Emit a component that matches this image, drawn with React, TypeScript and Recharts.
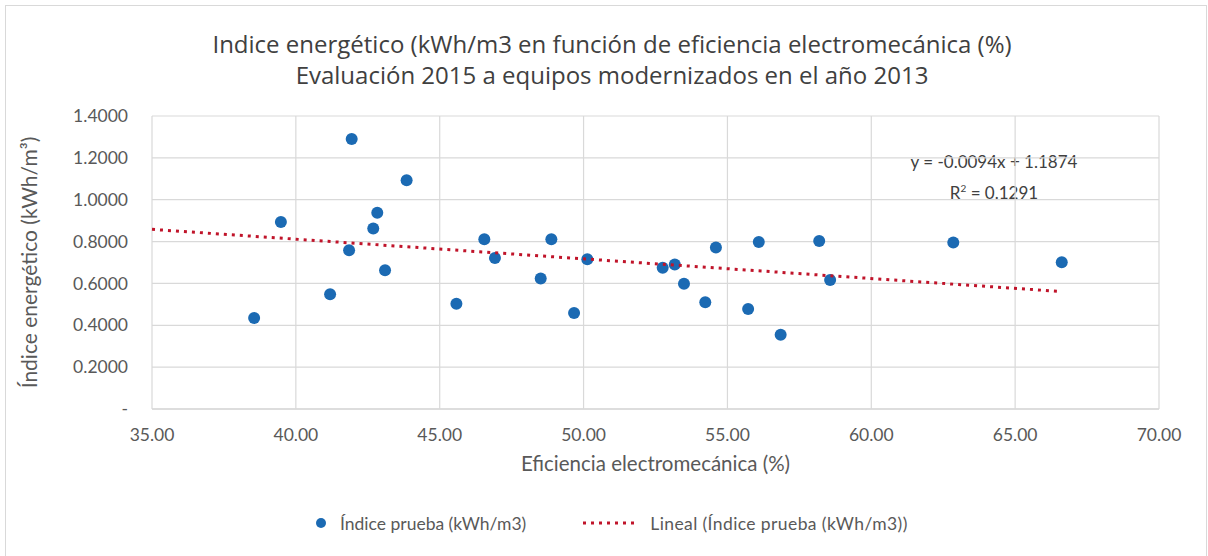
import React from 'react';
import {
  ScatterChart,
  Scatter,
  XAxis,
  YAxis,
  CartesianGrid,
  Label,
} from 'recharts';

// eficiencia electromecánica (%) and índice energético (kWh/m3) per equipo
const efficiency = [
  38.55, 39.48, 41.94, 41.19, 41.85, 42.69, 42.83, 43.1, 43.85, 45.58,
  46.55, 46.92, 48.51, 48.88, 49.67, 50.13, 52.75, 53.17, 53.49, 54.23,
  54.6, 55.72, 56.09, 56.85, 58.19, 58.57, 62.85, 66.62,
];
const energyIndex = [
  0.435, 0.893, 1.29, 0.548, 0.758, 0.862, 0.938, 0.663, 1.093, 0.503,
  0.811, 0.721, 0.624, 0.811, 0.459, 0.715, 0.675, 0.691, 0.599, 0.51,
  0.772, 0.478, 0.798, 0.355, 0.803, 0.616, 0.796, 0.701,
];

// linear trend endpoints, as drawn
const trendX = [35, 66.62];
const trendY = [0.8584, 0.5612];

const xTicks = [35, 40, 45, 50, 55, 60, 65, 70];
const yTicks = [0, 0.2, 0.4, 0.6, 0.8, 1.0, 1.2, 1.4];

const titleLines = [
  'Indice energético (kWh/m3 en función de eficiencia electromecánica (%)',
  'Evaluación 2015 a equipos modernizados en el año 2013',
];
const seriesName = 'Índice prueba (kWh/m3)';
const trendName = 'Lineal (Índice prueba (kWh/m3))';
const equation = 'y = -0.0094x + 1.1874';
const rSquared = '0.1291';

const FONT = 'Lato, "Open Sans", sans-serif';
const TEXT = '#595959';
const GRID = '#D9D9D9';
const BLUE = '#1B6AB3';
const RED = '#C0142A';

const points = efficiency.map((x, i) => ({ x, y: energyIndex[i] }));
const trend = trendX.map((x, i) => ({ x, y: trendY[i] }));

function LegendRow() {
  return (
    <div
      style={{
        position: 'absolute',
        left: 314,
        top: 511,
        display: 'flex',
        alignItems: 'center',
        fontFamily: FONT,
        fontSize: 17.5,
        color: TEXT,
        height: 24,
        whiteSpace: 'nowrap',
      }}
    >
      <svg width={14} height={14} style={{ marginRight: 12 }}>
        <circle cx={7} cy={7} r={5} fill={BLUE} />
      </svg>
      <span>{seriesName}</span>
      <svg width={56} height={10} style={{ marginLeft: 56, marginRight: 12 }}>
        <line x1={1} y1={5} x2={55} y2={5} stroke={RED} strokeWidth={3} strokeDasharray="3 5" />
      </svg>
      <span style={{ letterSpacing: 0.4 }}>{trendName}</span>
    </div>
  );
}

export default function App() {
  return (
    <div
      style={{
        position: 'absolute',
        left: 0,
        top: 0,
        width: 1208,
        height: 556,
        background: '#fff',
        fontFamily: FONT,
      }}
    >
      <div
        style={{
          position: 'absolute',
          left: 5,
          top: 5,
          width: 1202,
          height: 551,
          borderLeft: `1px solid ${GRID}`,
          borderTop: `1px solid ${GRID}`,
          borderRight: `1px solid ${GRID}`,
          boxSizing: 'border-box',
        }}
      />
      <div
        style={{
          position: 'absolute',
          left: 0,
          top: 28,
          width: 1224,
          textAlign: 'center',
          fontFamily: '"Open Sans", sans-serif',
          fontSize: 24,
          lineHeight: '31px',
          color: '#404040',
        }}
      >
        {titleLines.map((t) => (
          <div key={t}>{t}</div>
        ))}
      </div>
      <div
        style={{
          position: 'absolute',
          left: 880,
          top: 149,
          width: 228,
          textAlign: 'center',
          fontSize: 17,
          lineHeight: '26px',
          color: '#404040',
        }}
      >
        <div>{equation}</div>
        <div>
          R<sup style={{ fontSize: 10 }}>2</sup> = {rSquared}
        </div>
      </div>
      <ScatterChart
        width={1208}
        height={556}
        margin={{ top: 116, right: 49, left: 82, bottom: 87 }}
        style={{ position: 'absolute', left: 0, top: 0 }}
      >
        <CartesianGrid stroke={GRID} strokeWidth={1.2} />
        <XAxis
          type="number"
          dataKey="x"
          domain={[35, 70]}
          ticks={xTicks}
          interval={0}
          tickFormatter={(v: number) => v.toFixed(2)}
          tick={{ fill: TEXT, fontSize: 17.5, fontFamily: FONT }}
          axisLine={{ stroke: GRID, strokeWidth: 1.5 }}
          tickLine={false}
          tickMargin={14}
          height={60}
        >
          <Label
            value="Eficiencia electromecánica (%)"
            position="insideBottom"
            offset={-2}
            style={{ fill: TEXT, fontSize: 20.5, fontFamily: FONT }}
          />
        </XAxis>
        <YAxis
          type="number"
          dataKey="y"
          domain={[0, 1.4]}
          ticks={yTicks}
          interval={0}
          tickFormatter={(v: number) => (v === 0 ? '-' : v.toFixed(4))}
          tick={{ fill: TEXT, fontSize: 17.5, fontFamily: FONT }}
          axisLine={false}
          tickLine={false}
          tickMargin={18}
          width={70}
        >
          <Label
            angle={-90}
            position="left"
            offset={52}
            style={{ fill: TEXT, fontSize: 21, fontFamily: FONT, textAnchor: 'middle' }}
            value="Índice energético (kWh/m³)"
          />
        </YAxis>
        <Scatter
          name={seriesName}
          data={points}
          fill={BLUE}
          isAnimationActive={false}
          shape={(p: any) => <circle cx={p.cx} cy={p.cy} r={6} fill={BLUE} />}
        />
        <Scatter
          name={trendName}
          data={trend}
          line={{ stroke: RED, strokeWidth: 3, strokeDasharray: '3 5' }}
          lineType="joint"
          isAnimationActive={false}
          shape={() => <g />}
        />
      </ScatterChart>
      <LegendRow />
    </div>
  );
}
